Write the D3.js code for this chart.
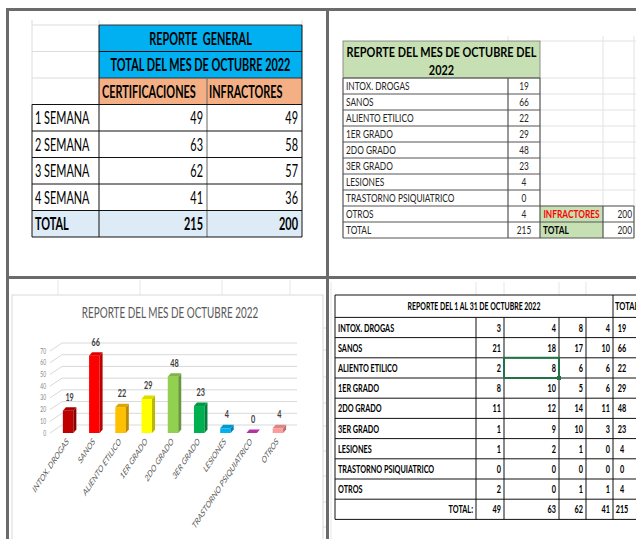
<!DOCTYPE html>
<html>
<head>
<meta charset="utf-8">
<script src="https://cdn.jsdelivr.net/npm/d3@7/dist/d3.min.js"></script>
<style>
body{margin:0;background:#fff;}
svg{display:block;font-family:Lato,"Open Sans",sans-serif;}
</style>
</head>
<body>
<svg id="hoja" width="636" height="539"></svg>
<script>
// ---- datos ----
var semanas = ["1 SEMANA", "2 SEMANA", "3 SEMANA", "4 SEMANA"];
var certificaciones = [49, 63, 62, 41];
var infractores = [49, 58, 57, 36];

var categorias = ["INTOX. DROGAS", "SANOS", "ALIENTO ETILICO", "1ER GRADO", "2DO GRADO",
                  "3ER GRADO", "LESIONES", "TRASTORNO PSIQUIATRICO", "OTROS"];
var semana1 = [3, 21, 2, 8, 11, 1, 1, 0, 2];
var semana2 = [4, 18, 8, 10, 12, 9, 2, 0, 0];
var semana3 = [8, 17, 6, 5, 14, 10, 1, 0, 1];
var semana4 = [4, 10, 6, 6, 11, 3, 0, 0, 1];

var colores = ["#C00000", "#FF0000", "#FFC000", "#FFFF00", "#92D050", "#00B050", "#00B0F0", "#D038C0", "#FF9B9B"];
var yTicks = [0, 10, 20, 30, 40, 50, 60, 70];

var semanasCat = [semana1, semana2, semana3, semana4];
var totales = categorias.map(function(c, i){ return d3.sum(semanasCat, function(s){ return s[i]; }); });

var svg = d3.select("#hoja");

// la captura esta comprimida en horizontal: medir y sacar el factor
var probe = svg.append("text").attr("font-size", 16.5).attr("font-weight", "bold").text("TOTAL DEL MES DE OCTUBRE 2022");
var SX = 180 / probe.node().getComputedTextLength();
probe.remove();

function txt(g, x, y, s, o){
    o = o || {};
    var sx = SX * (o.sx || 1);
    return g.append("text")
        .attr("transform", "translate(" + x + "," + y + ") scale(" + sx + ",1)" + (o.rot ? " rotate(" + o.rot + ")" : ""))
        .attr("text-anchor", o.anchor || "start")
        .attr("font-size", o.size || 10)
        .attr("font-weight", o.bold ? "bold" : null)
        .attr("fill", o.color || "#000")
        .text(s);
}
function ln(g, x1, y1, x2, y2, c, w){
    return g.append("line").attr("x1", x1).attr("y1", y1).attr("x2", x2).attr("y2", y2)
        .attr("stroke", c).attr("stroke-width", w || 1);
}

// ================= arriba izquierda: reporte general =================
var g1 = svg.append("g");
var c1 = [32, 99, 207, 302];
function r1(i){ return 25 + i * 26.5; }

// cuadricula gris de la hoja (col A, filas de encabezado)
for (var i = 0; i <= 3; i++) ln(g1, c1[0], r1(i), c1[1], r1(i), "#dcdcdc");
ln(g1, c1[0], 20, c1[0], r1(3), "#dcdcdc");
ln(g1, c1[1], 20, c1[1], r1(0), "#dcdcdc");
ln(g1, c1[3], 20, c1[3], r1(0), "#dcdcdc");

g1.append("rect").attr("x", c1[1]).attr("y", r1(0)).attr("width", c1[3] - c1[1]).attr("height", r1(2) - r1(0)).attr("fill", "#00B0F0");
g1.append("rect").attr("x", c1[1]).attr("y", r1(2)).attr("width", c1[3] - c1[1]).attr("height", r1(3) - r1(2)).attr("fill", "#F4B084");
g1.append("rect").attr("x", c1[0]).attr("y", r1(7)).attr("width", c1[3] - c1[0]).attr("height", r1(8) - r1(7)).attr("fill", "#DDEBF7");

ln(g1, c1[1], r1(0), c1[3], r1(0), "#333");
ln(g1, c1[1], r1(1), c1[3], r1(1), "#111");
ln(g1, c1[1], r1(2), c1[3], r1(2), "#333");
ln(g1, c1[1], r1(0), c1[1], r1(8), "#111");
ln(g1, c1[3], r1(0), c1[3], r1(8), "#111");
ln(g1, c1[2], r1(2), c1[2], r1(8), "#666");
ln(g1, c1[0], r1(3), c1[0], r1(8), "#111");
for (var i = 3; i <= 8; i++) ln(g1, c1[0], r1(i), c1[3], r1(i), "#111");

var fs1 = 16.5, off1 = 6.3;
txt(g1, (c1[1] + c1[3]) / 2, (r1(0) + r1(1)) / 2 + off1, "REPORTE\u00a0\u00a0GENERAL", {anchor: "middle", size: fs1, bold: true});
txt(g1, (c1[1] + c1[3]) / 2, (r1(1) + r1(2)) / 2 + off1, "TOTAL DEL MES DE OCTUBRE 2022", {anchor: "middle", size: fs1, bold: true});
txt(g1, c1[1] + 3, (r1(2) + r1(3)) / 2 + off1, "CERTIFICACIONES", {size: fs1, bold: true});
txt(g1, c1[2] + 2, (r1(2) + r1(3)) / 2 + off1, "INFRACTORES", {size: fs1, bold: true});

semanas.forEach(function(s, i){
    var yy = (r1(3 + i) + r1(4 + i)) / 2 + off1;
    txt(g1, c1[0] + 3, yy, s, {size: fs1});
    txt(g1, c1[2] - 4, yy, certificaciones[i], {size: fs1, anchor: "end"});
    txt(g1, c1[3] - 4, yy, infractores[i], {size: fs1, anchor: "end"});
});
var yT1 = (r1(7) + r1(8)) / 2 + off1;
txt(g1, c1[0] + 3, yT1, "TOTAL", {size: fs1, bold: true});
txt(g1, c1[2] - 4, yT1, d3.sum(certificaciones), {size: fs1, bold: true, anchor: "end"});
txt(g1, c1[3] - 4, yT1, d3.sum(infractores), {size: fs1, bold: true, anchor: "end"});

// ================= arriba derecha: reporte del mes =================
var g2 = svg.append("g");
var c2 = [343, 508, 540, 603, 634];
function r2(i){ return 78 + i * 16; }
var fs2 = 10.5, off2 = 3.6, sx2 = 1.2, tc2 = "#262626";

// cuadricula de la hoja en la zona vacia
ln(g2, c2[2], 41, 636, 41, "#e2e2e2");
for (var i = 0; i <= 8; i++) ln(g2, c2[2], r2(i), 636, r2(i), "#e2e2e2");
ln(g2, c2[3], 36, c2[3], r2(8), "#e2e2e2");
ln(g2, c2[4], 36, c2[4], r2(8), "#e2e2e2");
ln(g2, c2[1], 36, c2[1], 41, "#e2e2e2");

g2.append("rect").attr("x", c2[0]).attr("y", 41).attr("width", c2[2] - c2[0]).attr("height", r2(0) - 41)
    .attr("fill", "#C6E0B4").attr("stroke", "#777").attr("stroke-width", 0.8);
txt(g2, (c2[0] + c2[2]) / 2, 57, "REPORTE DEL MES DE OCTUBRE DEL", {anchor: "middle", size: 14, bold: true, sx: 1.18});
txt(g2, (c2[0] + c2[2]) / 2, 75, "2022", {anchor: "middle", size: 14, bold: true, sx: 1.18});

g2.selectAll("rect.verde").data([8, 9]).enter().append("rect")
    .attr("x", c2[2]).attr("y", function(d){ return r2(d); })
    .attr("width", c2[3] - c2[2]).attr("height", 16).attr("fill", "#C6E0B4");

for (var i = 0; i <= 10; i++) ln(g2, c2[0], r2(i), c2[2], r2(i), "#555", 1.2);
ln(g2, c2[0], r2(0), c2[0], r2(10), "#555", 1.2);
ln(g2, c2[1], r2(0), c2[1], r2(10), "#555", 1.2);
ln(g2, c2[2], r2(0), c2[2], r2(10), "#555", 1.2);
ln(g2, c2[2], r2(8), c2[4], r2(8), "#555", 1.2);
ln(g2, c2[2], r2(9), c2[4], r2(9), "#555", 1.2);
ln(g2, c2[2], r2(10), c2[4], r2(10), "#555", 1.2);
ln(g2, c2[3], r2(8), c2[3], r2(10), "#555", 1.2);
ln(g2, c2[4], r2(8), c2[4], r2(10), "#555", 1.2);

categorias.forEach(function(c, i){
    var yy = r2(i) + 8 + off2;
    txt(g2, c2[0] + 3, yy, c, {size: fs2, color: tc2, sx: sx2});
    txt(g2, (c2[1] + c2[2]) / 2, yy, totales[i], {size: fs2, color: tc2, anchor: "middle", sx: sx2});
});
var yT2 = r2(9) + 8 + off2;
txt(g2, c2[0] + 3, yT2, "TOTAL", {size: fs2, color: tc2, sx: sx2});
txt(g2, (c2[1] + c2[2]) / 2, yT2, d3.sum(totales), {size: fs2, color: tc2, anchor: "middle", sx: sx2});
txt(g2, (c2[2] + c2[3]) / 2, r2(8) + 8 + off2, "INFRACTORES", {size: fs2, bold: true, color: "#FF0000", anchor: "middle", sx: sx2});
txt(g2, c2[4] - 2, r2(8) + 8 + off2, d3.sum(infractores), {size: fs2, color: tc2, anchor: "end", sx: sx2});
txt(g2, c2[2] + 3, yT2, "TOTAL", {size: fs2, bold: true, sx: sx2});
txt(g2, c2[4] - 2, yT2, d3.sum(infractores), {size: fs2, color: tc2, anchor: "end", sx: sx2});

// ================= abajo izquierda: grafico 3D =================
var g3 = svg.append("g");
// cuadricula de la hoja arriba del grafico
[58, 140, 222, 290].forEach(function(x){ ln(g3, x, 280, x, 295, "#e6e6e6"); });
[328, 350, 377, 403, 426, 451, 476, 502, 527].forEach(function(y){ ln(g3, 323, y, 326, y, "#dcdcdc"); });
g3.append("rect").attr("x", 12).attr("y", 295).attr("width", 311).attr("height", 260)
    .attr("fill", "#fff").attr("stroke", "#d9d9d9");

txt(g3, 170, 318, "REPORTE DEL MES DE OCTUBRE 2022", {anchor: "middle", size: 15, color: "#595959"});

var x = d3.scaleBand().domain(categorias).range([55, 291]);
var y = d3.scaleLinear().domain([0, 70]).range([433, 351]);
var wallDx = 12, wallDy = 8, frontX = 50, backRight = 297;

g3.selectAll("path.grid").data(yTicks).enter().append("path")
    .attr("fill", "none").attr("stroke", "#d9d9d9").attr("stroke-width", 1)
    .attr("d", function(d){
        return "M" + frontX + "," + y(d) + "L" + (frontX + wallDx) + "," + (y(d) - wallDy) + "L" + backRight + "," + (y(d) - wallDy);
    });
yTicks.forEach(function(t){
    txt(g3, 46, y(t) + 2.5, t, {anchor: "end", size: 7.5, color: "#7f7f7f"});
});

var bw = 10.5, bdx = 3, bdy = 3.5;
var bars = g3.selectAll("g.bar").data(categorias).enter().append("g");
bars.each(function(c, i){
    var g = d3.select(this);
    var cx = x(c) + x.bandwidth() / 2;
    var x0 = cx - bw / 2, x1 = cx + bw / 2, yt = y(totales[i]), yb = y(0);
    var col = d3.color(colores[i]);
    g.append("rect").attr("x", x0).attr("y", yt).attr("width", bw).attr("height", yb - yt).attr("fill", col);
    g.append("path").attr("fill", col.darker(0.9))
        .attr("d", "M" + x1 + "," + yb + "L" + (x1 + bdx) + "," + (yb - bdy) + "L" + (x1 + bdx) + "," + (yt - bdy) + "L" + x1 + "," + yt + "Z");
    g.append("path").attr("fill", col.darker(0.4))
        .attr("d", "M" + x0 + "," + yt + "L" + (x0 + bdx) + "," + (yt - bdy) + "L" + (x1 + bdx) + "," + (yt - bdy) + "L" + x1 + "," + yt + "Z");
    txt(g3, cx + 1.5, yt - 10, totales[i], {anchor: "middle", size: 11, bold: true, color: "#404040"});
    txt(g3, cx + 1, 442, c, {anchor: "end", size: 9.5, color: "#595959", rot: -45});
});

// ================= abajo derecha: reporte por semana =================
var g4 = svg.append("g");
var c4 = [335, 476, 504, 559, 586, 613, 642];
var h4 = 20.2, top4 = 295, r4_0 = 317.4;
function r4(i){ return r4_0 + i * h4; }
var fs4 = 11, off4 = 4;

[c4[1], c4[2], c4[3], c4[4]].forEach(function(xx){ ln(g4, xx, 282, xx, top4, "#e6e6e6"); });
ln(g4, 331, 282, 331, 539, "#e6e6e6");

ln(g4, c4[0], top4, 636, top4, "#111");
ln(g4, c4[0], top4, c4[0], r4(10), "#111");
ln(g4, c4[5], top4, c4[5], r4(10), "#111");
for (var i = 0; i <= 10; i++) ln(g4, c4[0], r4(i), 636, r4(i), "#111");
for (var k = 1; k <= 4; k++) ln(g4, c4[k], r4(0), c4[k], r4(10), "#111");

txt(g4, (c4[0] + c4[5]) / 2, (top4 + r4(0)) / 2 + off4, "REPORTE DEL 1 AL 31 DE OCTUBRE 2022", {anchor: "middle", size: 10.5, bold: true});
txt(g4, c4[5] + 2, (top4 + r4(0)) / 2 + off4, "TOTAL", {size: 11.5, bold: true});

categorias.forEach(function(c, i){
    var yy = r4(i) + h4 / 2 + off4;
    txt(g4, c4[0] + 3, yy, c, {size: fs4, bold: true});
    semanasCat.forEach(function(s, k){
        txt(g4, c4[k + 2] - 3, yy, s[i], {size: fs4, bold: true, anchor: "end"});
    });
    txt(g4, 622, yy, totales[i], {size: fs4, bold: true, anchor: "middle"});
});
var yT4 = r4(9) + h4 / 2 + off4;
txt(g4, c4[1] - 3, yT4, "TOTAL:", {size: fs4, bold: true, anchor: "end"});
semanasCat.forEach(function(s, k){
    txt(g4, c4[k + 2] - 3, yT4, d3.sum(s), {size: fs4, bold: true, anchor: "end"});
});
txt(g4, 622, yT4, d3.sum(totales), {size: fs4, bold: true, anchor: "middle"});

// celda seleccionada
g4.append("rect").attr("x", c4[2]).attr("y", r4(2)).attr("width", c4[3] - c4[2]).attr("height", h4)
    .attr("fill", "none").attr("stroke", "#217346").attr("stroke-width", 2);
g4.append("rect").attr("x", c4[3] - 2).attr("y", r4(3) - 2).attr("width", 4).attr("height", 4).attr("fill", "#217346");

// ================= marcos grises =================
var gm = svg.append("g");
ln(gm, 7.5, 8, 7.5, 539, "#6b6b6b", 3);
ln(gm, 6, 9.5, 636, 9.5, "#6b6b6b", 3);
ln(gm, 327.5, 8, 327.5, 539, "#6b6b6b", 3);
ln(gm, 6, 277.5, 636, 277.5, "#6b6b6b", 3);
</script>
</body>
</html>
